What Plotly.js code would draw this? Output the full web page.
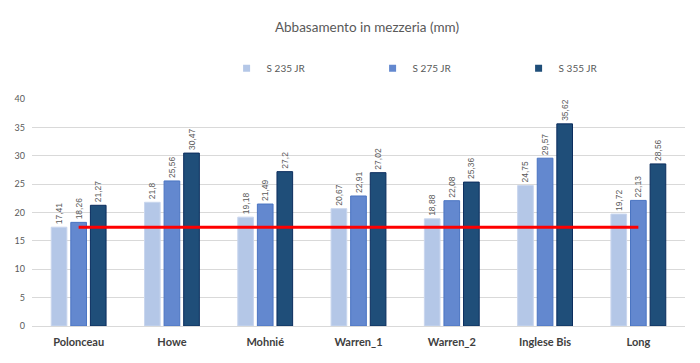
<!DOCTYPE html>
<html>
<head>
<meta charset="utf-8">
<script src="https://cdn.plot.ly/plotly-3.0.1.min.js"></script>
<style>html,body{margin:0;padding:0;background:#fff}#chart{width:700px;height:363px}</style>
</head>
<body>
<div id="chart"></div>
<script>
const categories = ["Polonceau", "Howe", "Mohnié", "Warren_1", "Warren_2", "Inglese Bis", "Long"];
const seriesNames = ["S 235 JR", "S 275 JR", "S 355 JR"];
const s235 = [17.41, 21.8, 19.18, 20.67, 18.88, 24.75, 19.72];
const s275 = [18.26, 25.56, 21.49, 22.91, 22.08, 29.57, 22.13];
const s355 = [21.27, 30.47, 27.2, 27.02, 25.36, 35.62, 28.56];
const limitValue = 17.41;
const limitLine = categories.map(() => limitValue);
const yTicks = [0, 5, 10, 15, 20, 25, 30, 35, 40];

const fill = ["#B4C7E7", "#6388CF", "#1F4E79"];
const edge = ["#C9D6EE", "#4A74C2", "#0B2D5E"];
const fmt = v => String(v).replace(".", ",");
const series = [s235, s275, s355];

const traces = series.map((vals, i) => ({
  type: "bar",
  name: seriesNames[i],
  x: categories,
  y: vals,
  text: vals.map(fmt),
  textposition: "outside",
  textangle: -90,
  constraintext: "none",
  textfont: {family: "Liberation Sans, Arial, sans-serif", size: 8.5, color: "#595959"},
  cliponaxis: false,
  marker: {color: fill[i], line: {color: edge[i], width: 1}},
  showlegend: false,
  hoverinfo: "x+y"
}));

traces.push({
  type: "scatter",
  mode: "lines",
  x: categories,
  y: limitLine,
  line: {color: "#FF0000", width: 3},
  showlegend: false,
  hoverinfo: "y"
});

// legend entries (small square swatches, no plotted marks)
seriesNames.forEach((name, i) => {
  traces.push({
    type: "scatter",
    mode: "markers",
    name: name,
    x: [null],
    y: [null],
    marker: {symbol: "square", size: 7, color: fill[i]},
    showlegend: true,
    hoverinfo: "skip"
  });
});

const layout = {
  width: 700,
  height: 363,
  margin: {l: 32, r: 15, t: 99, b: 37},
  paper_bgcolor: "#ffffff",
  plot_bgcolor: "#ffffff",
  font: {family: "Lato, 'Open Sans', sans-serif", color: "#595959"},
  title: {
    text: "Abbasamento in mezzeria (mm)",
    font: {family: "Lato, 'Open Sans', sans-serif", size: 13.5, color: "#595959"},
    x: 0.513, xanchor: "center", xref: "paper",
    y: 0.925, yanchor: "middle"
  },
  barmode: "group",
  bargap: 0.37,
  bargroupgap: 0.2,
  showlegend: true,
  legend: {
    orientation: "h",
    x: 0.298, xanchor: "left",
    y: 1.135, yanchor: "middle",
    font: {family: "Lato, 'Open Sans', sans-serif", size: 10, color: "#595959"},
    entrywidth: 101,
    entrywidthmode: "pixels",
    itemwidth: 30,
    traceorder: "normal"
  },
  xaxis: {
    type: "category",
    tickfont: {family: "Lato, 'Open Sans', sans-serif", size: 11, color: "#404040", weight: "bold"},
    showgrid: false,
    showline: true,
    linecolor: "#D9D9D9",
    ticks: "",
    ticklabelstandoff: 6,
    fixedrange: true
  },
  yaxis: {
    range: [0, 40],
    tickvals: yTicks,
    ticktext: yTicks.map(String),
    tickfont: {family: "Lato, 'Open Sans', sans-serif", size: 9, color: "#595959"},
    gridcolor: "#D9D9D9",
    gridwidth: 1,
    zeroline: true,
    zerolinecolor: "#D9D9D9",
    showline: false,
    ticks: "",
    ticklabelstandoff: 6,
    fixedrange: true
  }
};

Plotly.newPlot("chart", traces, layout, {displayModeBar: false, staticPlot: true});
</script>
</body>
</html>
